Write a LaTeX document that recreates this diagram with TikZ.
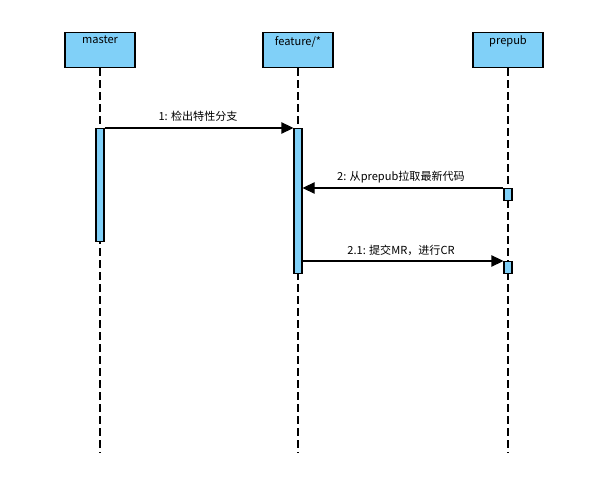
\documentclass[tikz,border=0pt]{standalone}
\usepackage{fontspec}
\setmainfont{Noto Sans CJK SC}
\usetikzlibrary{arrows.meta,calc}
\definecolor{lifeblue}{RGB}{128,208,248}
\tikzset{
  headbox/.style={draw=black, fill=lifeblue, line width=0.9pt, minimum width=70*0.75pt, minimum height=35*0.75pt, inner sep=0pt},
  boxlabel/.style={anchor=north, inner sep=0pt, yshift=-3pt, font=\fontsize{8.3pt}{10pt}\selectfont},
  lifeline/.style={draw=black, line width=0.8pt, dash pattern=on 6pt off 3pt},
  actbar/.style={draw=black, fill=lifeblue, line width=0.8pt, minimum width=8*0.75pt, inner sep=0pt, anchor=north},
  msg/.style={draw=black, line width=0.8pt, -{Triangle[length=9pt,width=8.5pt]}},
  msglabel/.style={font=\fontsize{8.3pt}{10pt}\selectfont, inner sep=0pt}
}
\begin{document}
\begin{tikzpicture}[x=0.75pt,y=-0.75pt]
\useasboundingbox (0,0) rectangle (602,498);
% heads
\node[headbox, label={[boxlabel]north:master}] (master) at (100,50) {};
\node[headbox, label={[boxlabel]north:feature/*}] (feature) at (298,50) {};
\node[headbox, label={[boxlabel]north:prepub}] (prepub) at (508,50) {};
% lifeline ends
\coordinate (mend) at (100,453);
\coordinate (fend) at (298,453);
\coordinate (pend) at (508,453);
\draw[lifeline] (master.south) -- (mend);
\draw[lifeline] (feature.south) -- (fend);
\draw[lifeline] (prepub.south) -- (pend);
% activation bars
\node[actbar, minimum height=113*0.75pt] (mbar) at (100,128) {};
\node[actbar, minimum height=145*0.75pt] (fbar) at (298,128) {};
\node[actbar, minimum height=12*0.75pt] (pbar1) at (508,188) {};
\node[actbar, minimum height=12*0.75pt] (pbar2) at (508,261) {};
% messages
\draw[msg] (mbar.north east) -- (fbar.north west);
\draw[msg] (pbar1.north west) -- (pbar1.north west -| fbar.east);
\draw[msg] (fbar.east |- pbar2.north) -- (pbar2.north west);
% labels
\node[msglabel] (l1) at (198,116) {1: 检出特性分支};
\node[msglabel] (l2) at (401,177) {2: 从prepub拉取最新代码};
\node[msglabel] (l3) at (401,250) {2.1: 提交MR，进行CR};
\end{tikzpicture}
\end{document}
